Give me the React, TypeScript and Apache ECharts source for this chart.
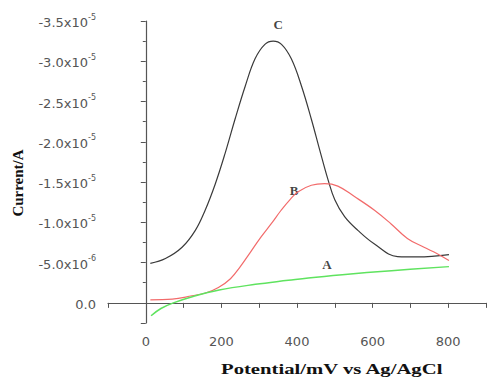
import React, { useEffect, useRef } from "react";
import * as echarts from "echarts";

// Curve C (black)
const cX = [12, 52, 96, 131, 157, 184, 210, 236, 263, 289, 315, 337, 359, 385, 412, 438, 460, 482, 500, 526, 561, 605, 666, 719, 802];
const cY = [-4.9e-6, -5.5e-6, -6.9e-6, -9.0e-6, -1.15e-5, -1.48e-5, -1.86e-5, -2.28e-5, -2.69e-5, -3.03e-5, -3.21e-5, -3.25e-5, -3.21e-5, -3.03e-5, -2.69e-5, -2.28e-5, -1.9e-5, -1.53e-5, -1.28e-5, -1.07e-5, -9.0e-6, -7.3e-6, -5.75e-6, -5.7e-6, -6.0e-6];

// Curve B (red)
const bX = [12, 70, 122, 160, 192, 224, 250, 277, 305, 333, 358, 381, 403, 438, 473, 508, 552, 605, 649, 692, 736, 771, 802];
const bY = [-3.8e-7, -4.6e-7, -8.8e-7, -1.25e-6, -1.9e-6, -3.0e-6, -4.5e-6, -6.3e-6, -8.2e-6, -9.9e-6, -1.15e-5, -1.28e-5, -1.38e-5, -1.46e-5, -1.48e-5, -1.45e-5, -1.32e-5, -1.15e-5, -9.8e-6, -8.0e-6, -6.9e-6, -6.1e-6, -5.25e-6];

// Curve A (green)
const aX = [14, 40, 73, 125, 194, 290, 377, 430, 520, 650, 802];
const aY = [1.6e-6, 7e-7, 0, -8e-7, -1.6e-6, -2.3e-6, -2.8e-6, -3.1e-6, -3.5e-6, -4.0e-6, -4.5e-6];

// Curve labels (data coords)
const curveLabels = [
  { name: "C", x: 350, y: -3.46e-5 },
  { name: "B", x: 392, y: -1.4e-5 },
  { name: "A", x: 479, y: -4.75e-6 },
];

const xTickLabels = [0, 200, 400, 600, 800];

function zip(xs: number[], ys: number[]) {
  return xs.map((x, i) => [x, ys[i]]);
}

function fmtY(v: number) {
  const r = Math.round(v * 1e12) / 1e12;
  if (r > 1e-9) return "";
  if (Math.abs(r) < 1e-12) return "{a|0.0}";
  const e = Math.floor(Math.log10(Math.abs(r)) + 1e-9);
  const m = r / Math.pow(10, e);
  return `{a|${m.toFixed(1)}x10}{s|${e}}`;
}

export default function App() {
  const ref = useRef<HTMLDivElement>(null);
  useEffect(() => {
    const chart = echarts.init(ref.current!, null, { renderer: "svg" });
    const axisColor = "#555";
    chart.setOption({
      animation: false,
      grid: { left: 108, right: 0, top: 21, bottom: 56 },
      xAxis: {
        type: "value",
        min: -100,
        max: 900,
        interval: 100,
        axisLine: { show: true, lineStyle: { color: axisColor, width: 1.2 } },
        axisTick: { show: true, length: 5, lineStyle: { color: axisColor } },
        splitLine: { show: false },
        axisLabel: {
          margin: 12,
          color: "#555",
          fontFamily: "DejaVu Sans",
          fontSize: 13,
          formatter: (v: number) => (xTickLabels.includes(Math.round(v)) ? String(Math.round(v)) : ""),
        },
      },
      yAxis: {
        type: "value",
        inverse: true,
        min: -3.5e-5,
        max: 2.5e-6,
        interval: 5e-6,
        axisLine: { show: true, lineStyle: { color: axisColor, width: 1.2 } },
        axisTick: { show: true, length: 5, lineStyle: { color: axisColor } },
        minorTick: { show: true, splitNumber: 2, length: 3, lineStyle: { color: axisColor } },
        splitLine: { show: false },
        axisLabel: {
          margin: 12,
          color: "#555",
          formatter: fmtY,
          rich: {
            a: { fontFamily: "DejaVu Sans", fontSize: 13, color: "#555", lineHeight: 16, verticalAlign: "bottom" },
            s: { fontFamily: "DejaVu Sans", fontSize: 8, color: "#555", lineHeight: 16, verticalAlign: "top" },
          },
        },
      },
      graphic: [
        {
          type: "text",
          left: 221,
          top: 362,
          scaleX: 1.38,
          style: {
            text: "Potential/mV vs Ag/AgCl",
            font: "bold 15px 'Liberation Serif'",
            fill: "#111",
          },
        },
        {
          type: "text",
          x: 18,
          y: 183,
          rotation: Math.PI / 2,
          style: {
            text: "Current/A",
            font: "bold 15px 'Liberation Serif'",
            fill: "#111",
            align: "center",
            verticalAlign: "middle",
            textAlign: "center",
            textVerticalAlign: "middle",
          },
        },
      ],
      series: [
        {
          type: "line",
          data: zip(cX, cY),
          smooth: 0.4,
          showSymbol: false,
          lineStyle: { color: "#3a3a3a", width: 1.2 },
        },
        {
          type: "line",
          data: zip(bX, bY),
          smooth: 0.4,
          showSymbol: false,
          lineStyle: { color: "#f26b6b", width: 1.2 },
        },
        {
          type: "line",
          data: zip(aX, aY),
          smooth: 0.4,
          showSymbol: false,
          lineStyle: { color: "#5fe35f", width: 1.5 },
        },
        {
          type: "scatter",
          symbolSize: 0,
          data: curveLabels.map((l) => ({ value: [l.x, l.y], name: l.name })),
          label: {
            show: true,
            position: "inside",
            formatter: (p: any) => p.name,
            fontFamily: "Liberation Serif",
            fontWeight: "bold",
            fontSize: 13,
            color: "#111",
          },
        },
      ],
    });
    return () => chart.dispose();
  }, []);
  return (
    <div
      ref={ref}
      style={{ position: "fixed", left: 0, top: 0, width: 489, height: 379, background: "#fff" }}
    />
  );
}
